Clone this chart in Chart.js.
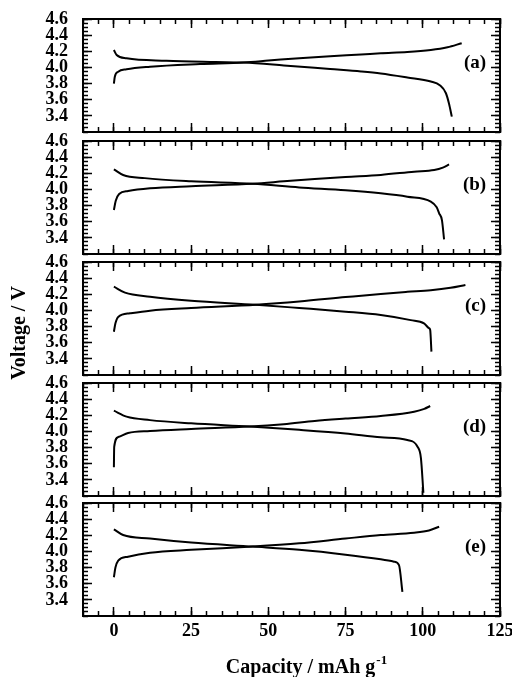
<!DOCTYPE html>
<html>
<head>
<meta charset="utf-8">
<script src="https://cdn.jsdelivr.net/npm/chart.js@4.4.1/dist/chart.umd.min.js"></script>
<style>
  body { margin: 0; background: #fff; }
  #wrap { position: relative; width: 512px; height: 677px; }
  #wrap canvas { position: absolute; left: 0; top: 0; }
</style>
</head>
<body>
<div id="wrap">
  <canvas id="pa" width="512" height="677"></canvas>
  <canvas id="pb" width="512" height="677"></canvas>
  <canvas id="pc" width="512" height="677"></canvas>
  <canvas id="pd" width="512" height="677"></canvas>
  <canvas id="pe" width="512" height="677"></canvas>
</div>
<script>
// [capacity mAh/g, voltage V]
const chargeA = [[0,3.80],[0.3,3.885],[1.4,3.947],[4.1,3.977],[11.7,4.009],[27.9,4.042],[42,4.062],[50,4.085],[60,4.115],[70,4.140],[80,4.160],[86.4,4.175],[95,4.19],[102.6,4.216],[108,4.25],[112.6,4.30]];
const dischargeA = [[0,4.216],[0.9,4.154],[4.1,4.113],[17,4.083],[33,4.067],[42,4.060],[55,4.025],[70,3.98],[80,3.95],[86.4,3.925],[95,3.875],[102.6,3.825],[105.5,3.78],[107.5,3.68],[108.5,3.55],[109.4,3.39]];

const chargeB = [[0,3.745],[0.6,3.86],[1.7,3.943],[4.6,3.98],[11.7,4.014],[25,4.04],[45,4.07],[55,4.10],[65,4.13],[75,4.155],[86.4,4.18],[97.2,4.22],[103.7,4.24],[106.5,4.27],[108.5,4.31]];
const dischargeB = [[0,4.249],[3,4.179],[10,4.14],[25,4.10],[45,4.07],[60,4.025],[75,3.99],[86.4,3.952],[95,3.91],[102.6,3.85],[104.5,3.78],[105.3,3.704],[106.2,3.62],[106.9,3.38]];

const chargeC = [[0,3.736],[0.5,3.84],[1.4,3.92],[5.2,3.964],[11.7,3.997],[25,4.03],[46,4.07],[60,4.11],[75,4.165],[86.4,4.205],[95,4.23],[102.6,4.25],[109,4.28],[113.8,4.315]];
const dischargeC = [[0,4.294],[3.6,4.22],[11.7,4.17],[25,4.12],[46,4.07],[60,4.03],[75,3.985],[86.4,3.943],[96.1,3.88],[100.4,3.84],[102,3.78],[102.4,3.757],[102.8,3.49]];

const chargeD = [[0,3.555],[0.1,3.81],[1.4,3.93],[4.6,3.98],[11.7,4.005],[25,4.03],[44,4.06],[55,4.09],[65,4.13],[75,4.16],[86.4,4.191],[97.2,4.244],[100.5,4.28],[102.4,4.315]];
const dischargeD = [[0,4.257],[4.1,4.183],[11.7,4.14],[25,4.10],[44,4.06],[60,4.02],[75,3.975],[86.4,3.927],[95,3.894],[98.3,3.81],[99.4,3.67],[100.2,3.24]];

const chargeE = [[0,3.68],[0.5,3.80],[1.4,3.885],[4.6,3.935],[11.7,3.984],[25,4.02],[45,4.06],[60,4.10],[75,4.16],[86.4,4.203],[97.2,4.232],[102,4.26],[105.3,4.306]];
const dischargeE = [[0,4.274],[3,4.203],[11.7,4.16],[25,4.11],[45,4.06],[60,4.02],[75,3.96],[86.4,3.902],[90.7,3.873],[92.3,3.83],[93.4,3.50]];

const panelNames = ['(a)', '(b)', '(c)', '(d)', '(e)'];
const xTicks = [0, 25, 50, 75, 100, 125];
const yTicks = [3.4, 3.6, 3.8, 4.0, 4.2, 4.4, 4.6];
const xTitle = 'Capacity / mAh g';
const xTitleSup = '-1';
const yTitle = 'Voltage / V';

// layout (pixels)
const FONT = 'Liberation Serif';
const W = 512, H = 677;
const panelTop = [19, 141, 262, 383, 503];
const panelHeight = 113;
const plotLeft = 83, plotRight = 500;

const curves = [
  [chargeA, dischargeA], [chargeB, dischargeB], [chargeC, dischargeC],
  [chargeD, dischargeD], [chargeE, dischargeE]
];

// fixed axis sizes so every panel lands on the same box
function fitTo(scale, size) {
  if (scale.isHorizontal()) scale.height = size; else scale.width = size;
  scale.paddingLeft = scale.paddingRight = scale.paddingTop = scale.paddingBottom = 0;
}

function axis(position, major, size, labelTicks, showLabels) {
  const horizontal = position === 'top' || position === 'bottom';
  const cfg = {
    type: 'linear',
    position: position,
    weight: major ? 1 : 0,
    min: horizontal ? -10 : 3.2,
    max: horizontal ? 125 : 4.6,
    afterFit: s => fitTo(s, size),
    border: { display: major, width: 2, color: '#000' },
    grid: { drawOnChartArea: false, tickLength: major ? -9 : -5, tickWidth: 1.5, tickColor: '#000' },
    ticks: {
      display: !!showLabels,
      autoSkip: false,
      maxRotation: 0,
      includeBounds: false,
      color: '#000',
      padding: horizontal ? 14 : 24,
      font: { family: FONT, size: 18, weight: 'bold' }
    }
  };
  if (major) {
    cfg.afterBuildTicks = s => { s.ticks = labelTicks.map(v => ({ value: v })); };
    if (!horizontal) cfg.ticks.callback = v => Number(v).toFixed(1);
  } else {
    cfg.ticks.stepSize = horizontal ? 5 : 0.05;
    cfg.ticks.maxTicksLimit = 200;
  }
  return cfg;
}

const panelLabel = {
  id: 'panelLabel',
  afterDatasetsDraw(chart, args, opts) {
    const ctx = chart.ctx;
    ctx.save();
    ctx.font = 'bold 19px "' + FONT + '"';
    ctx.fillStyle = '#000';
    ctx.textAlign = 'right';
    ctx.textBaseline = 'middle';
    ctx.fillText(opts.text, chart.scales.x.getPixelForValue(120.5), chart.scales.y.getPixelForValue(4.05));
    ctx.restore();
  }
};

const figureTitles = {
  id: 'figureTitles',
  afterDraw(chart) {
    const ctx = chart.ctx;
    ctx.save();
    ctx.fillStyle = '#000';
    ctx.font = 'bold 20px "' + FONT + '"';
    ctx.translate(20, 333);
    ctx.rotate(-Math.PI / 2);
    ctx.textAlign = 'center';
    ctx.textBaseline = 'middle';
    ctx.fillText(yTitle, 0, 0);
    ctx.restore();

    ctx.save();
    ctx.fillStyle = '#000';
    ctx.textAlign = 'left';
    ctx.textBaseline = 'alphabetic';
    ctx.font = 'bold 20px "' + FONT + '"';
    const w1 = ctx.measureText(xTitle).width;
    ctx.font = 'bold 13px "' + FONT + '"';
    const w2 = ctx.measureText(xTitleSup).width;
    const x0 = 306 - (w1 + w2) / 2;
    ctx.font = 'bold 20px "' + FONT + '"';
    ctx.fillText(xTitle, x0, 673);
    ctx.font = 'bold 13px "' + FONT + '"';
    ctx.fillText(xTitleSup, x0 + w1 + 1, 664);
    ctx.restore();
  }
};

['pa', 'pb', 'pc', 'pd', 'pe'].forEach((id, i) => {
  const last = i === 4;
  const bottomGap = H - panelTop[i] - panelHeight;
  const line = pts => ({
    data: pts.map(p => ({ x: p[0], y: p[1] })),
    borderColor: '#000',
    borderWidth: 2,
    pointRadius: 0,
    fill: false,
    cubicInterpolationMode: 'monotone',
    xAxisID: 'x',
    yAxisID: 'y'
  });
  new Chart(document.getElementById(id), {
    type: 'line',
    data: { datasets: [line(curves[i][0]), line(curves[i][1])] },
    options: {
      responsive: false,
      animation: false,
      events: [],
      layout: {
        padding: { left: 0, right: W - plotRight, top: panelTop[i], bottom: last ? 0 : bottomGap }
      },
      scales: {
        x: axis('bottom', true, last ? bottomGap : 0, xTicks, last),
        xMinor: axis('bottom', false, 0),
        xTop: axis('top', true, 0, xTicks),
        xTopMinor: axis('top', false, 0),
        y: axis('left', true, plotLeft, yTicks, true),
        yMinor: axis('left', false, 0),
        yRight: axis('right', true, 0, yTicks),
        yRightMinor: axis('right', false, 0)
      },
      plugins: {
        legend: { display: false },
        tooltip: { enabled: false },
        panelLabel: { text: panelNames[i] }
      }
    },
    plugins: last ? [panelLabel, figureTitles] : [panelLabel]
  });
});
</script>
</body>
</html>
